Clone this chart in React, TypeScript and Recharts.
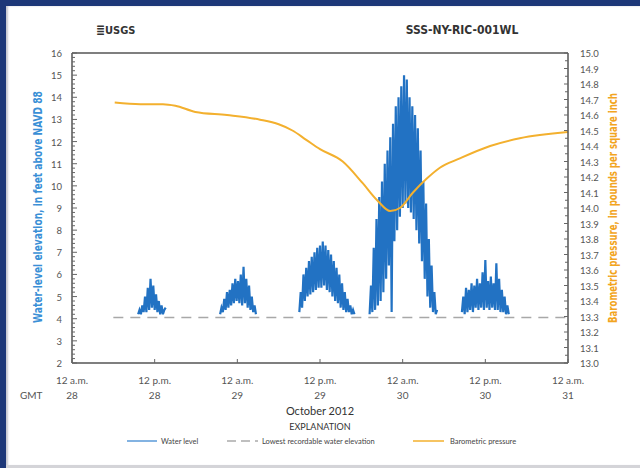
import React from 'react'
import { ComposedChart, Line, XAxis, YAxis, ReferenceLine } from 'recharts'

// hours since 12 a.m. Oct 28 (GMT)
const hourTicks = [0, 12, 24, 36, 48, 60, 72]
const tickTimes = ['12 a.m.', '12 p.m.', '12 a.m.', '12 p.m.', '12 a.m.', '12 p.m.', '12 a.m.']
const tickDays = ['28', '28', '29', '29', '30', '30', '31']

// water level bursts, sampled every 0.2 h from each start hour (feet above NAVD 88)
const sampleStep = 0.2
const burstStarts = [9.6, 21.5, 33.0, 43.2, 56.6]
const burst1 = [4.2, 4.4, 4.2, 4.6, 4.3, 5.0, 4.3, 5.4, 4.4, 5.8, 4.5, 5.5, 4.4, 5.1, 4.3, 4.8, 4.2, 4.6, 4.2, 4.4, 4.5]
const burst2 = [4.2, 4.5, 4.3, 4.9, 4.4, 5.2, 4.5, 5.3, 4.6, 5.6, 4.7, 5.8, 4.8, 5.7, 4.7, 6.0, 4.6, 6.35, 4.7, 5.8, 4.5, 5.5, 4.4, 5.0, 4.3, 4.6, 4.2]
const burst3 = [4.3, 5.2, 4.5, 6.0, 4.8, 6.3, 5.0, 6.6, 5.1, 6.8, 5.2, 7.0, 5.3, 7.2, 5.4, 7.3, 5.4, 7.48, 5.5, 7.3, 5.3, 7.1, 5.2, 6.9, 5.0, 6.6, 4.8, 6.3, 4.7, 6.0, 4.5, 5.6, 4.4, 5.2, 4.3, 4.9, 4.3, 4.6, 4.2, 4.4, 4.2]
const burst4 = [4.2, 5.5, 4.3, 7.2, 4.4, 8.5, 4.6, 9.5, 4.8, 10.2, 5.2, 11.0, 5.8, 11.6, 6.4, 12.2, 4.3, 12.8, 7.5, 13.6, 8.0, 14.0, 8.6, 14.5, 9.0, 15.0, 9.2, 14.8, 9.0, 14.0, 8.8, 13.6, 8.5, 13.2, 8.0, 12.6, 7.4, 11.6, 6.6, 10.2, 5.8, 9.2, 5.0, 7.6, 4.5, 6.4, 4.3, 5.2, 4.2, 4.4]
const burst5 = [4.3, 5.0, 4.2, 5.4, 4.3, 5.3, 4.4, 5.6, 4.3, 5.5, 4.5, 5.8, 4.4, 5.6, 4.5, 6.1, 4.4, 6.65, 4.5, 5.7, 4.4, 5.9, 4.5, 5.6, 4.4, 6.5, 4.4, 5.8, 4.3, 5.3, 4.3, 5.0, 4.2, 4.6, 4.2]
const bursts = [burst1, burst2, burst3, burst4, burst5]

// barometric pressure (psi)
const pressureHours = [6.2, 9.9, 13.2, 15.0, 17.9, 22.5, 27.3, 30.0, 32.0, 34.0, 36.0, 39.3, 42.2, 44.3, 46.2, 47.6, 49.5, 51.5, 53.4, 56.3, 60.7, 65.0, 72.0]
const pressureValues = [14.68, 14.67, 14.67, 14.66, 14.62, 14.6, 14.57, 14.54, 14.5, 14.44, 14.38, 14.3, 14.16, 14.05, 13.98, 14.0, 14.1, 14.19, 14.26, 14.32, 14.4, 14.45, 14.49]

const lowestElevation = 4.05
const lowestFrom = 6
const lowestTo = 72

const waterSeries = bursts.map((vals, b) =>
  vals.map((v, i) => ({ h: +(burstStarts[b] + i * sampleStep).toFixed(2), v }))
)
const pressureData = pressureHours.map((h, i) => ({ h, p: pressureValues[i] }))
const lowestData = [{ h: lowestFrom, v: lowestElevation }, { h: lowestTo, v: lowestElevation }]

const leftTicks = Array.from({ length: 71 }, (_, i) => +(2 + i * 0.2).toFixed(1))
const rightTicks = Array.from({ length: 41 }, (_, i) => +(13 + i * 0.05).toFixed(2))

const tickFont = 'Lato, "Open Sans", sans-serif'
const titleFont = '"Liberation Sans Narrow", "DejaVu Sans Condensed", "Liberation Sans", sans-serif'
const WATER = '#2272c3'
const PRESSURE = '#f3b02e'

const LeftTick = (props: any) => {
  const { x, y, payload } = props
  const major = Math.abs(payload.value - Math.round(payload.value)) < 0.001
  return (
    <g>
      <line x1={x} x2={x + (major ? 5 : 3)} y1={y} y2={y} stroke="#666" strokeWidth={1} />
      {major && (
        <text x={x - 10} y={y + 4} textAnchor="end" fontSize={9.5} fill="#555" fontFamily={tickFont}>
          {payload.value}
        </text>
      )}
    </g>
  )
}

const RightTick = (props: any) => {
  const { x, y, payload } = props
  const major = Math.abs(payload.value * 10 - Math.round(payload.value * 10)) < 0.001
  return (
    <g>
      <line x1={x - (major ? 4 : 3)} x2={x} y1={y} y2={y} stroke="#666" strokeWidth={1} />
      {major && (
        <text x={x + 12} y={y + 4} textAnchor="start" fontSize={9.5} fill="#555" fontFamily={tickFont}>
          {payload.value.toFixed(1)}
        </text>
      )}
    </g>
  )
}

const BottomTick = (props: any) => {
  const { x, y, index } = props
  return (
    <g>
      <line x1={x} x2={x} y1={y} y2={y - 4} stroke="#666" strokeWidth={1} />
      <text x={x} y={y + 21} textAnchor="middle" fontSize={10} fill="#555" fontFamily={tickFont}>
        {tickTimes[index]}
      </text>
      <text x={x} y={y + 36} textAnchor="middle" fontSize={10} fill="#555" fontFamily={tickFont}>
        {tickDays[index]}
      </text>
    </g>
  )
}

export default function App() {
  return (
    <div style={{ position: 'fixed', left: 0, top: 0, width: 640, height: 468, background: '#1d3778', overflow: 'hidden' }}>
      <div style={{ position: 'absolute', left: 6, top: 6, width: 634, height: 460, background: '#ffffff', boxShadow: 'inset 2px 0 2px #c8c8d0' }} />
      <div style={{ position: 'absolute', left: 0, top: 0 }}>
        <ComposedChart width={640} height={468} margin={{ top: 53, right: 0, left: 0, bottom: 0 }}>
          <XAxis
            dataKey="h"
            type="number"
            domain={[0, 72]}
            ticks={hourTicks}
            height={105}
            tickSize={0}
            tickMargin={0}
            tickLine={false}
            axisLine={{ stroke: '#555', strokeWidth: 1.5 }}
            tick={<BottomTick />}
            interval={0}
            allowDataOverflow
          />
          <YAxis
            yAxisId="left"
            orientation="left"
            width={72}
            domain={[2, 16]}
            ticks={leftTicks}
            interval={0}
            tickSize={0}
            tickMargin={0}
            tickLine={false}
            axisLine={{ stroke: '#555', strokeWidth: 1.5 }}
            tick={<LeftTick />}
            allowDataOverflow
          />
          <YAxis
            yAxisId="right"
            orientation="right"
            width={72}
            domain={[13, 15]}
            ticks={rightTicks}
            interval={0}
            tickSize={0}
            tickMargin={0}
            tickLine={false}
            axisLine={{ stroke: '#555', strokeWidth: 1.5 }}
            tick={<RightTick />}
            allowDataOverflow
          />
          <ReferenceLine yAxisId="left" y={16} stroke="#555" strokeWidth={1.5} />
          <Line
            yAxisId="left"
            data={lowestData}
            dataKey="v"
            stroke="#a8a8a8"
            strokeWidth={1.5}
            strokeDasharray="10 7"
            dot={false}
            isAnimationActive={false}
          />
          {waterSeries.map((d, i) => (
            <Line
              key={i}
              yAxisId="left"
              data={d}
              dataKey="v"
              type="linear"
              stroke={WATER}
              strokeWidth={2.2}
              strokeLinejoin="miter"
              dot={false}
              isAnimationActive={false}
            />
          ))}
          <Line
            yAxisId="right"
            data={pressureData}
            dataKey="p"
            type="monotone"
            stroke={PRESSURE}
            strokeWidth={2}
            dot={false}
            isAnimationActive={false}
          />
        </ComposedChart>
      </div>
      <svg width={640} height={468} style={{ position: 'absolute', left: 0, top: 0, pointerEvents: 'none' }}>
        <text x={96} y={34} fontSize={11} fontWeight="bold" fill="#333" fontFamily={titleFont}>
          <tspan fontSize={12}>≣</tspan>USGS
        </text>
        <text x={462} y={34} textAnchor="middle" fontSize={12} fontWeight="bold" fill="#333" fontFamily={titleFont}>
          SSS-NY-RIC-001WL
        </text>
        <text
          x={0}
          y={0}
          transform="translate(42 207) rotate(-90) scale(0.88 1)"
          textAnchor="middle"
          fontSize={11.5}
          fontWeight="bold"
          fill="#3a8fd6"
          fontFamily={titleFont}
        >
          Water-level elevation, in feet above NAVD 88
        </text>
        <text
          x={0}
          y={0}
          transform="translate(617 208) rotate(-90) scale(0.79 1)"
          textAnchor="middle"
          fontSize={12}
          fontWeight="bold"
          fill="#f2a51f"
          fontFamily={titleFont}
        >
          Barometric pressure, in pounds per square inch
        </text>
        <text x={20} y={399} fontSize={10} fill="#555" fontFamily={tickFont}>GMT</text>
        <text x={320} y={415} textAnchor="middle" fontSize={11} fill="#333" fontFamily={tickFont}>October 2012</text>
        <text x={320} y={430} textAnchor="middle" fontSize={9} fill="#333" fontFamily={tickFont}>EXPLANATION</text>
        <line x1={127} x2={157} y1={441} y2={441} stroke="#5a9ad8" strokeWidth={1.5} />
        <text x={161} y={444} fontSize={7.5} fill="#444" fontFamily={tickFont}>Water level</text>
        <line x1={227} x2={258} y1={441} y2={441} stroke="#aaa" strokeWidth={1.5} strokeDasharray="9 5" />
        <text x={262} y={444} fontSize={7.5} fill="#444" fontFamily={tickFont}>Lowest recordable water elevation</text>
        <line x1={413} x2={444} y1={441} y2={441} stroke={PRESSURE} strokeWidth={1.5} />
        <text x={450} y={444} fontSize={7.5} fill="#444" fontFamily={tickFont}>Barometric pressure</text>
      </svg>
      <div style={{ position: 'absolute', left: 6, top: 465, width: 634, height: 3, background: '#d4d4d8' }} />
    </div>
  )
}
